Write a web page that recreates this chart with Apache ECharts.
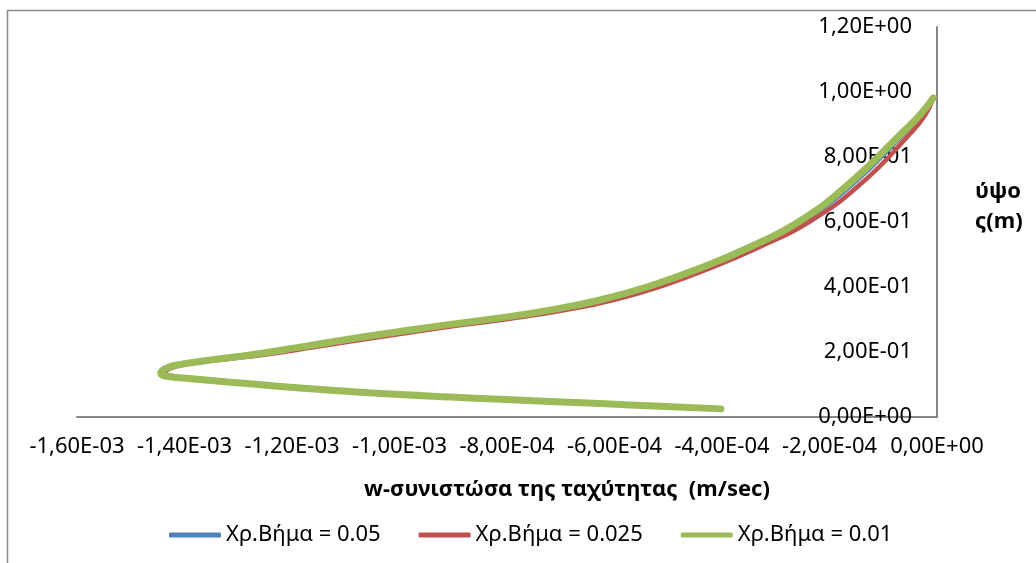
<!DOCTYPE html>
<html>
<head>
<meta charset="utf-8">
<script src="https://cdn.jsdelivr.net/npm/echarts@6/dist/echarts.min.js"></script>
<style>html,body{margin:0;padding:0;background:#fff}#c{width:1036px;height:563px}</style>
</head>
<body>
<div id="c"></div>
<script>
// Heights z (m), shared by the three series (the curve is single-valued in z)
const zLevels = [0.025, 0.033, 0.0415, 0.0545, 0.0615, 0.069, 0.0785, 0.089, 0.102, 0.111, 0.120, 0.125, 0.135, 0.151, 0.163, 0.178, 0.191, 0.215, 0.240, 0.263, 0.285, 0.305, 0.329, 0.360, 0.403, 0.458, 0.523, 0.603, 0.720, 0.868, 0.929, 0.982];
// w-component (m/sec) for each time step
const wStep005 = [-4.02e-4, -5.14e-4, -6.26e-4, -8.11e-4, -9.04e-4, -9.96e-4, -10.89e-4, -11.81e-4, -12.74e-4, -13.35e-4, -13.98e-4, -14.28e-4, -14.41e-4, -14.30e-4, -13.99e-4, -13.34e-4, -12.70e-4, -11.75e-4, -10.80e-4, -9.88e-4, -8.95e-4, -8.02e-4, -7.10e-4, -6.18e-4, -5.26e-4, -4.34e-4, -3.42e-4, -2.48e-4, -1.54e-4, -0.63e-4, -0.28e-4, -0.07e-4];
const wStep0025 = [-4.02e-4, -5.13e-4, -6.24e-4, -8.08e-4, -9.00e-4, -9.92e-4, -10.83e-4, -11.75e-4, -12.66e-4, -13.27e-4, -13.88e-4, -14.18e-4, -14.36e-4, -14.24e-4, -13.92e-4, -13.22e-4, -12.55e-4, -11.58e-4, -10.62e-4, -9.68e-4, -8.75e-4, -7.83e-4, -6.92e-4, -6.02e-4, -5.12e-4, -4.22e-4, -3.30e-4, -2.35e-4, -1.40e-4, -0.52e-4, -0.22e-4, -0.07e-4];
const wStep001 = [-4.02e-4, -5.15e-4, -6.27e-4, -8.13e-4, -9.06e-4, -9.99e-4, -10.92e-4, -11.85e-4, -12.78e-4, -13.40e-4, -14.03e-4, -14.33e-4, -14.44e-4, -14.33e-4, -14.03e-4, -13.40e-4, -12.78e-4, -11.85e-4, -10.92e-4, -9.99e-4, -9.06e-4, -8.13e-4, -7.20e-4, -6.27e-4, -5.34e-4, -4.41e-4, -3.48e-4, -2.55e-4, -1.62e-4, -0.69e-4, -0.32e-4, -0.07e-4];

const seriesNames = ['Χρ.Βήμα = 0.05', 'Χρ.Βήμα = 0.025', 'Χρ.Βήμα = 0.01'];
const xTickLabels = ['-1,60E-03', '-1,40E-03', '-1,20E-03', '-1,00E-03', '-8,00E-04', '-6,00E-04', '-4,00E-04', '-2,00E-04', '0,00E+00'];
const yTickLabels = ['0,00E+00', '2,00E-01', '4,00E-01', '6,00E-01', '8,00E-01', '1,00E+00', '1,20E+00'];
const xTitle = 'w-συνιστώσα της ταχύτητας  (m/sec)';
const yTitle = 'ύψο\nς(m)';

const xMin = -0.0016, xMax = 0, xStep = 0.0002;
const yMin = 0, yMax = 1.2, yStep = 0.2;

const chart = echarts.init(document.getElementById('c'), null, {renderer: 'canvas'});
const FONT = 'Noto Sans';
const pairs = (w) => zLevels.map((z, i) => [w[i], z]);

chart.setOption({
  animation: false,
  backgroundColor: '#fff',
  textStyle: {fontFamily: FONT},
  graphic: [{
    type: 'rect', silent: true, z: -10,
    shape: {x: 7.5, y: 10.5, width: 1200, height: 700},
    style: {fill: 'none', stroke: '#8a8a8a', lineWidth: 1.5}
  }, {
    type: 'text', silent: true, left: 975, top: 177,
    style: {text: yTitle, fill: '#000', font: 'bold 22px "Noto Sans"', lineHeight: 30, textAlign: 'left'}
  }],
  grid: {left: 77, right: 99, top: 27, bottom: 146, containLabel: false},
  legend: {
    data: seriesNames,
    left: 164, top: 519,
    icon: 'roundRect', itemWidth: 52, itemHeight: 5, itemGap: 38,
    textStyle: {fontFamily: FONT, fontSize: 22, color: '#000'}
  },
  xAxis: {
    type: 'value', min: xMin, max: xMax, interval: xStep, position: 'bottom',
    axisLine: {onZero: false, lineStyle: {color: '#868686', width: 2}},
    axisTick: {show: false}, splitLine: {show: false},
    axisLabel: {
      margin: 19, fontSize: 22, color: '#000', fontFamily: FONT,
      formatter: (v) => xTickLabels[Math.round((v - xMin) / xStep)]
    },
    name: xTitle, nameLocation: 'middle', nameGap: 62,
    nameTextStyle: {fontFamily: FONT, fontSize: 22, fontWeight: 'bold', color: '#000', padding: [0, 0, 0, 120]}
  },
  yAxis: {
    type: 'value', min: yMin, max: yMax, interval: yStep, position: 'right',
    axisLine: {show: true, onZero: false, lineStyle: {color: '#868686', width: 2}},
    axisTick: {show: false}, splitLine: {show: false},
    axisLabel: {
      inside: true, margin: 25, fontSize: 22, color: '#000', fontFamily: FONT,
      formatter: (v) => yTickLabels[Math.round((v - yMin) / yStep)]
    }
  },
  series: [
    {name: seriesNames[0], type: 'line', data: pairs(wStep005), showSymbol: false, smooth: 0.5,
     lineStyle: {color: '#4F81BD', width: 4, cap: 'round', join: 'round'}, itemStyle: {color: '#4F81BD'}},
    {name: seriesNames[1], type: 'line', data: pairs(wStep0025), showSymbol: false, smooth: 0.5,
     lineStyle: {color: '#C0504D', width: 4.5, cap: 'round', join: 'round'}, itemStyle: {color: '#C0504D'}},
    {name: seriesNames[2], type: 'line', data: pairs(wStep001), showSymbol: false, smooth: 0.5,
     lineStyle: {color: '#9BBB59', width: 7, cap: 'round', join: 'round'}, itemStyle: {color: '#9BBB59'}}
  ]
});
</script>
</body>
</html>
